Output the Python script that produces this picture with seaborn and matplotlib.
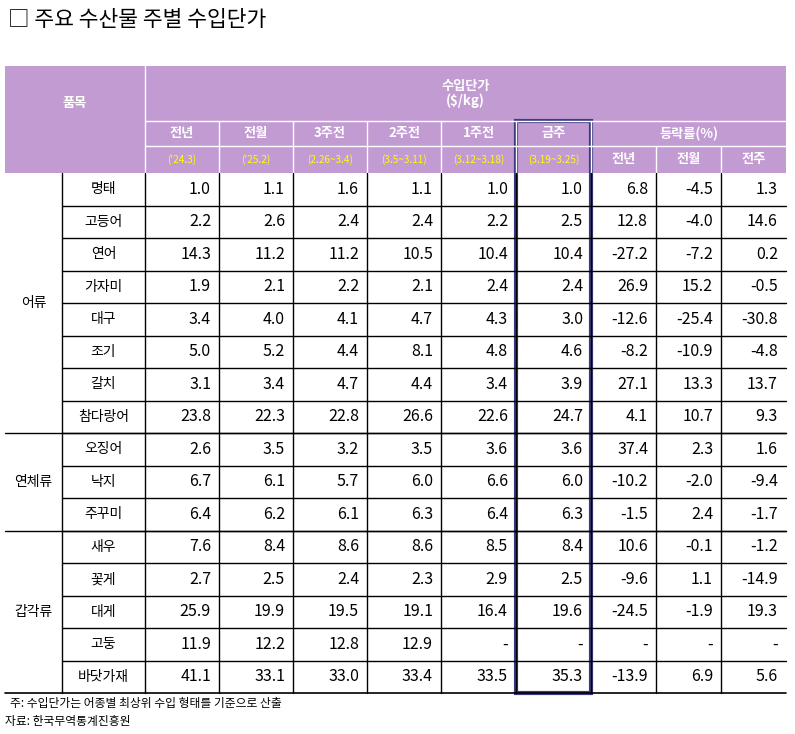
import matplotlib
matplotlib.use('Agg')
import matplotlib.pyplot as plt
import seaborn as sns

sns.set_theme(style='white')
plt.rcParams['font.family'] = ['Noto Sans CJK KR', 'Noto Sans CJK JP', 'Noto Sans CJK SC', 'DejaVu Sans']
plt.rcParams['axes.unicode_minus'] = False

# data
groups = ['어류', '연체류', '갑각류']
group_sizes = [8, 3, 5]
items = ['명태', '고등어', '연어', '가자미', '대구', '조기', '갈치', '참다랑어',
         '오징어', '낙지', '주꾸미', '새우', '꽃게', '대게', '고둥', '바닷가재']
prev_year = ['1.0', '2.2', '14.3', '1.9', '3.4', '5.0', '3.1', '23.8', '2.6', '6.7', '6.4', '7.6', '2.7', '25.9', '11.9', '41.1']
prev_month = ['1.1', '2.6', '11.2', '2.1', '4.0', '5.2', '3.4', '22.3', '3.5', '6.1', '6.2', '8.4', '2.5', '19.9', '12.2', '33.1']
week3 = ['1.6', '2.4', '11.2', '2.2', '4.1', '4.4', '4.7', '22.8', '3.2', '5.7', '6.1', '8.6', '2.4', '19.5', '12.8', '33.0']
week2 = ['1.1', '2.4', '10.5', '2.1', '4.7', '8.1', '4.4', '26.6', '3.5', '6.0', '6.3', '8.6', '2.3', '19.1', '12.9', '33.4']
week1 = ['1.0', '2.2', '10.4', '2.4', '4.3', '4.8', '3.4', '22.6', '3.6', '6.6', '6.4', '8.5', '2.9', '16.4', '-', '33.5']
this_week = ['1.0', '2.5', '10.4', '2.4', '3.0', '4.6', '3.9', '24.7', '3.6', '6.0', '6.3', '8.4', '2.5', '19.6', '-', '35.3']
chg_year = ['6.8', '12.8', '-27.2', '26.9', '-12.6', '-8.2', '27.1', '4.1', '37.4', '-10.2', '-1.5', '10.6', '-9.6', '-24.5', '-', '-13.9']
chg_month = ['-4.5', '-4.0', '-7.2', '15.2', '-25.4', '-10.9', '13.3', '10.7', '2.3', '-2.0', '2.4', '-0.1', '1.1', '-1.9', '-', '6.9']
chg_week = ['1.3', '14.6', '0.2', '-0.5', '-30.8', '-4.8', '13.7', '9.3', '1.6', '-9.4', '-1.7', '-1.2', '-14.9', '19.3', '-', '5.6']
price_heads = ['전년', '전월', '3주전', '2주전', '1주전', '금주']
price_periods = ["('24.3)", "('25.2)", '(2.26~3.4)', '(3.5~3.11)', '(3.12~3.18)', '(3.19~3.25)']
chg_heads = ['전년', '전월', '전주']

columns = [prev_year, prev_month, week3, week2, week1, this_week, chg_year, chg_month, chg_week]

# layout (pixels)
W, H = 795, 734
xs = [5, 62, 145, 219, 293, 367, 441, 516, 591, 656, 721, 786]
y_top, y_mid, y_sub, y_body = 66, 121, 146, 173
row_h = 32.5
header_col = '#c39bd3'
box_col = '#3c3a80'

fig = plt.figure(figsize=(W / 100, H / 100), dpi=100)
ax = fig.add_axes([0, 0, 1, 1])
ax.set_xlim(0, W)
ax.set_ylim(H, 0)
ax.axis('off')

# header background
ax.add_patch(plt.Rectangle((xs[0], y_top), xs[-1] - xs[0], y_body - y_top, color=header_col, lw=0))
wl = dict(color='white', lw=1)
ax.plot([xs[2], xs[2]], [y_top, y_body], **wl)
ax.plot([xs[2], xs[-1]], [y_mid, y_mid], **wl)
ax.plot([xs[2], xs[8]], [y_sub, y_sub], **wl)
ax.plot([xs[8], xs[-1]], [y_sub, y_sub], **wl)
for i in range(3, 11):
    if i == 9 or i == 10:
        ax.plot([xs[i], xs[i]], [y_sub, y_body], **wl)
    else:
        ax.plot([xs[i], xs[i]], [y_mid, y_body], **wl)

ax.text((xs[0] + xs[2]) / 2, (y_top + y_mid) / 2 + 10, '품목', ha='center', va='center', color='white', fontsize=9.5, fontweight='bold')
ax.text((xs[2] + xs[-1]) / 2, (y_top + y_mid) / 2, '수입단가\n($/kg)', ha='center', va='center', color='white', fontsize=9.5, fontweight='bold', linespacing=1.1)
for i in range(6):
    cx = (xs[i + 2] + xs[i + 3]) / 2
    ax.text(cx, (y_mid + y_sub) / 2, price_heads[i], ha='center', va='center', color='white', fontsize=9.5, fontweight='bold')
    ax.text(cx, (y_sub + y_body) / 2, price_periods[i], ha='center', va='center', color='#ffff00', fontsize=7.2)
ax.text((xs[8] + xs[-1]) / 2, (y_mid + y_sub) / 2, '등락률(%)', ha='center', va='center', color='white', fontsize=9.5, fontweight='bold')
for i in range(3):
    ax.text((xs[8 + i] + xs[9 + i]) / 2, (y_sub + y_body) / 2, chg_heads[i], ha='center', va='center', color='white', fontsize=9.5, fontweight='bold')

# body
y_end = y_body + row_h * len(items)
kl = dict(color='black', lw=1)
for i in range(1, 11):
    ax.plot([xs[i], xs[i]], [y_body, y_end], **kl)
start = 0
for g, n in zip(groups, group_sizes):
    ax.text((xs[0] + xs[1]) / 2, y_body + row_h * (start + n / 2), g, ha='center', va='center', color='black', fontsize=10)
    start += n
    if start < len(items):
        yy = y_body + row_h * start
        ax.plot([xs[0], xs[-1]], [yy, yy], **kl)
for r in range(len(items)):
    y0 = y_body + row_h * r
    if r > 0:
        ax.plot([xs[1], xs[-1]], [y0, y0], **kl)
    cy = y0 + row_h / 2
    ax.text((xs[1] + xs[2]) / 2, cy, items[r], ha='center', va='center', color='black', fontsize=10)
    for c, col in enumerate(columns):
        ax.text(xs[c + 3] - 8, cy, col[r], ha='right', va='center', color='black', fontsize=11.5)
ax.plot([xs[0], xs[-1]], [y_end, y_end], color='black', lw=1.2)

# highlight box on 금주
ax.add_patch(plt.Rectangle((xs[7], y_mid), xs[8] - xs[7], y_end - y_mid, fill=False, ec=box_col, lw=3))

# title and notes
ax.text(8, 20, '□ 주요 수산물 주별 수입단가', ha='left', va='center', color='black', fontsize=15.5)
ax.text(10, 704, '주: 수입단가는 어종별 최상위 수입 형태를 기준으로 산출', ha='left', va='center', color='black', fontsize=8.5)
ax.text(5, 721, '자료: 한국무역통계진흥원', ha='left', va='center', color='black', fontsize=8.5)

fig.savefig('out.png', dpi=100)
